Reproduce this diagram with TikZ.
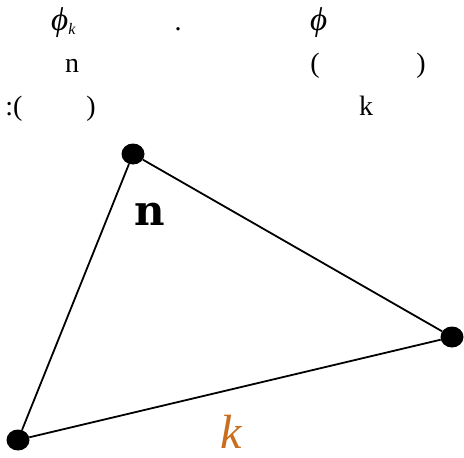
\documentclass[tikz,border=0pt]{standalone}
\usepackage{fontspec}
\usetikzlibrary{shapes.geometric}
\setmainfont{Liberation Serif}
\newfontfamily\slabfont{DejaVu Serif}
\begin{document}
\begin{tikzpicture}[x=1pt,y=-1pt,
  txt/.style={anchor=base,inner sep=0pt,font=\fontsize{28}{32}\selectfont},
  phi/.style={anchor=base west,inner sep=0pt,font=\fontsize{33}{36}\itshape\selectfont},
  vert/.style={ellipse,fill=black,inner sep=0pt,minimum width=23pt,minimum height=21pt},
  edge/.style={line width=1.8pt}]
\useasboundingbox (0,0) rectangle (464,458);
% header text
\node[phi] (t1) at (51,30) {\symbol{"03D5}\raisebox{-4pt}{\fontsize{16}{18}\selectfont k}};
\node[txt] (t2) at (178,30) {.};
\node[phi] (t3) at (310,30) {\symbol{"03D5}};
\node[txt] (t4) at (72,72) {n};
\node[txt] (t5) at (315,72) {(};
\node[txt] (t6) at (421,72) {)};
\node[txt] (t7) at (14,115) {:(};
\node[txt] (t8) at (91,115) {)};
\node[txt] (t9) at (366,115) {k};
% triangle
\node[vert] (a) at (133,154) {};
\node[vert] (b) at (452,337) {};
\node[vert] (c) at (18,440) {};
\draw[edge] (a) -- (b) -- (c) -- (a);
\node[inner sep=0pt,font=\fontsize{42}{46}\slabfont\bfseries\selectfont] (n) at (150,214) {n};
\node[inner sep=0pt,text={rgb,255:red,200;green,110;blue,30},font=\fontsize{48}{52}\itshape\selectfont] (k) at (231,432) {k};
\end{tikzpicture}
\end{document}
